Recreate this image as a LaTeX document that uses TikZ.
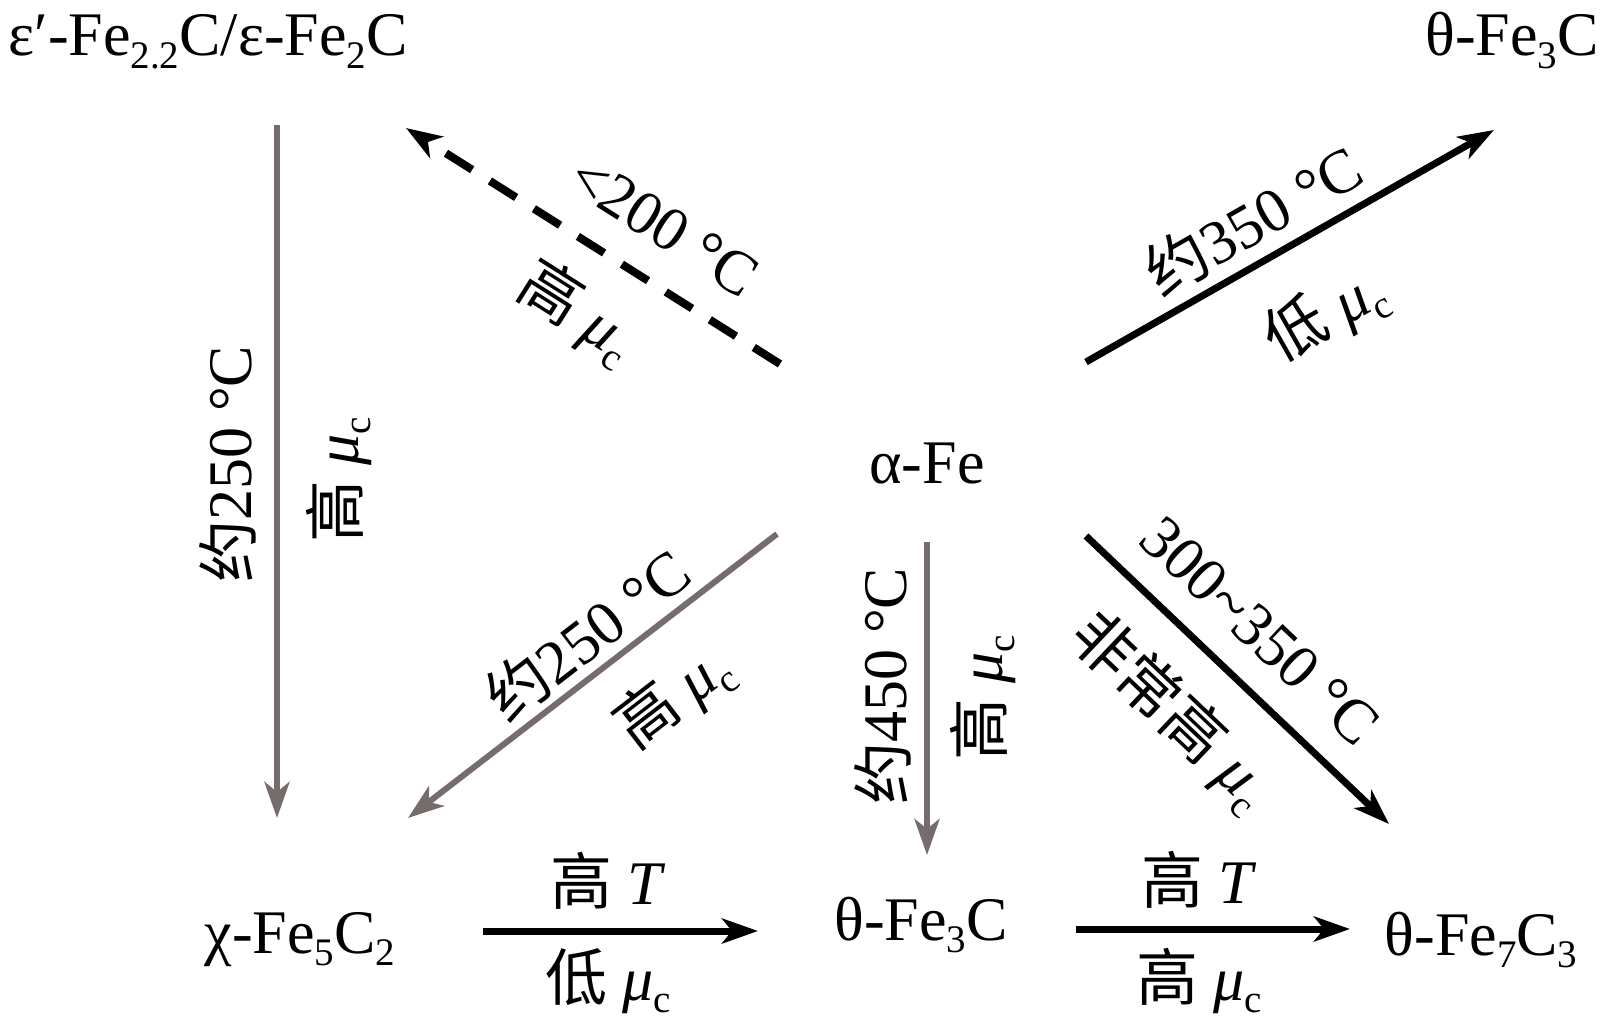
\documentclass[tikz,border=0pt]{standalone}
\usepackage{fontspec}
\setmainfont{Liberation Serif}
\newfontfamily\cjk{Noto Sans CJK SC}
\usetikzlibrary{arrows.meta}
\definecolor{arrgray}{RGB}{118,108,108}
\newcommand\zh[1]{{\cjk #1}}
\newcommand\sbs[1]{\raisebox{-0.2em}{\fontsize{39}{39}\selectfont #1}}
\newcommand\muc{\textit{μ}\sbs{c}}
\newcommand\degC{°C}
\begin{document}
\begin{tikzpicture}[x=1pt,y=-1pt,
  txt/.style={inner sep=0pt, font=\fontsize{62}{62}\selectfont},
  spc/.style={txt, anchor=base},
  tip/.style={-{Stealth[length=36pt,width=25pt,inset=10pt]}},
  blk/.style={tip, line width=7pt, draw=black},
  gry/.style={tip, line width=6pt, draw=arrgray},
  dsh/.style={tip, line width=8pt, draw=black, dash pattern=on 31pt off 21pt},
]
\fill[white] (0,0) rectangle (1610,1024);
\useasboundingbox (0,0) rectangle (1610,1024);

% species
\node[spc] (eps)   at (208,56)  {ε′-Fe\sbs{2.2}C/ε-Fe\sbs{2}C};
\node[spc] (th1)   at (1512,56) {θ-Fe\sbs{3}C};
\node[spc] (alpha) at (927,483) {α-Fe};
\node[spc] (chi)   at (300,953) {χ-Fe\sbs{5}C\sbs{2}};
\node[spc] (th2)   at (921,940) {θ-Fe\sbs{3}C};
\node[spc] (th7)   at (1481,955) {θ-Fe\sbs{7}C\sbs{3}};

% arrow end points
\coordinate (a1s) at (277,125);  \coordinate (a1e) at (277,818);
\coordinate (a2s) at (780,364);  \coordinate (a2e) at (406,128);
\coordinate (a3s) at (1086,362); \coordinate (a3e) at (1494,130);
\coordinate (a4s) at (777,534);  \coordinate (a4e) at (408,818);
\coordinate (a5s) at (927,542);  \coordinate (a5e) at (927,855);
\coordinate (a6s) at (1086,536); \coordinate (a6e) at (1389,824);
\coordinate (a7s) at (483,931);  \coordinate (a7e) at (758,931);
\coordinate (a8s) at (1076,929); \coordinate (a8e) at (1350,929);

\draw[gry] (a1s) -- (a1e);
\draw[dsh] (a2s) -- (a2e);
\draw[blk] (a3s) -- (a3e);
\draw[gry] (a4s) -- (a4e);
\draw[gry] (a5s) -- (a5e);
\draw[blk] (a6s) -- (a6e);
\draw[blk] (a7s) -- (a7e);
\draw[blk] (a8s) -- (a8e);

% labels
\node[txt, rotate=-32.3] (l2a) at (664,226) {<200 \degC};
\node[txt, rotate=-32.3] (l2b) at (577,312) {\zh{高} \muc};
\node[txt, rotate=29.6]  (l3a) at (1253,219) {\zh{约}350 \degC};
\node[txt, rotate=29.6]  (l3b) at (1325,316) {\zh{低} \muc};
\node[txt, rotate=90]    (l1a) at (228,464) {\zh{约}250 \degC};
\node[txt, rotate=90]    (l1b) at (339,480) {\zh{高} \muc};
\node[txt, rotate=37.6]  (l4a) at (587,634) {\zh{约}250 \degC};
\node[txt, rotate=37.6]  (l4b) at (673,698) {\zh{高} \muc};
\node[txt, rotate=90]    (l5a) at (883,686) {\zh{约}450 \degC};
\node[txt, rotate=90]    (l5b) at (983,698) {\zh{高} \muc};
\node[txt, rotate=-43.5] (l6a) at (1260,631) {300\textasciitilde350 \degC};
\node[txt, rotate=-43.5] (l6b) at (1171,711) {\zh{非常高} \muc};
\node[txt] (l7a) at (608,881) {\zh{高} \textit{T}};
\node[txt] (l7b) at (608,981) {\zh{低} \muc};
\node[txt] (l8a) at (1199,880) {\zh{高} \textit{T}};
\node[txt] (l8b) at (1199,981) {\zh{高} \muc};
\end{tikzpicture}
\end{document}
